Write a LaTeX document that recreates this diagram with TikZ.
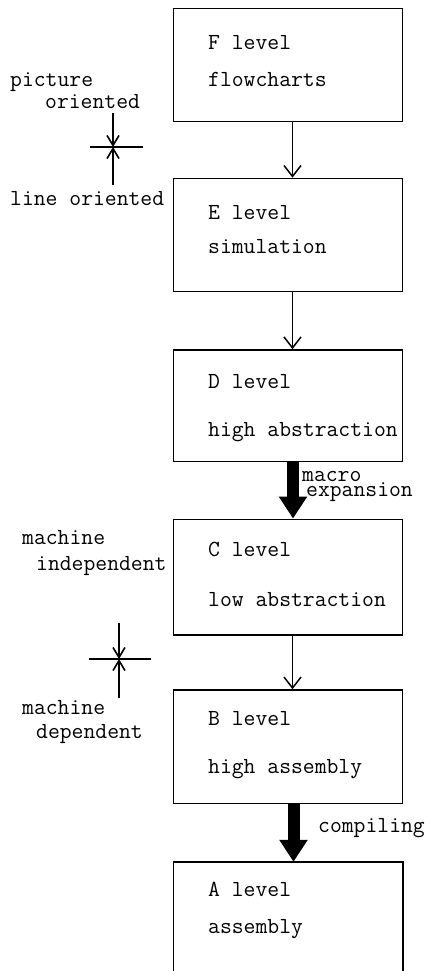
\documentclass[tikz,border=0pt]{standalone}
\usepackage{fontspec}
\usetikzlibrary{arrows.meta}
\begin{document}
\begin{tikzpicture}[x=1pt,y=-1pt,
  box/.style={draw, line width=1.6pt, minimum width=229pt, inner sep=0pt},
  openbox/.style={minimum width=229pt, inner sep=0pt},
  txt/.style={anchor=mid west, inner sep=0pt, font=\ttfamily\addfontfeatures{FakeBold=0.8}\fontsize{23}{23}\selectfont},
  thinarrow/.style={line width=1.5pt, -{Straight Barb[length=11pt,width=17pt]}},
  fatarrow/.style={line width=12pt, -{Triangle[length=22pt,width=27pt]}},
  xarrow/.style={line width=1.6pt, -{Straight Barb[length=10pt,width=12pt]}},
  xline/.style={line width=1.6pt},
  ]
\useasboundingbox (0,0) rectangle (430,971);
\fill[white] (0,0) rectangle (430,971);

% boxes
\node[box, minimum height=113pt] (F) at (288,65) {};
\node[box, minimum height=113pt] (E) at (288,235) {};
\node[box, minimum height=111.7pt] (D) at (288,405.8) {};
\node[box, minimum height=115.7pt] (C) at (288,577.2) {};
\node[box, minimum height=113.3pt] (B) at (288,746.7) {};
\node[openbox, minimum height=109pt] (A) at (288,916.5) {};
\draw[line width=1.6pt] (A.south west) |- (A.north east) -- (A.south east);

% box texts
\node[txt] (F1) at (208,47) {F level};
\node[txt] (F2) at (208,84) {flowcharts};
\node[txt] (E1) at (208,217) {E level};
\node[txt] (E2) at (208,251) {simulation};
\node[txt] (D1) at (208,386) {D level};
\node[txt] (D2) at (208,434) {high abstraction};
\node[txt] (C1) at (208,554) {C level};
\node[txt] (C2) at (208,604) {low abstraction};
\node[txt] (B1) at (208,723) {B level};
\node[txt] (B2) at (208,771) {high assembly};
\node[txt] (A1) at (208,894) {A level};
\node[txt] (A2) at (208,931) {assembly};

% connectors
\draw[thinarrow] ([xshift=4.5pt]F.south) -- ([xshift=4.5pt]E.north);
\draw[thinarrow] ([xshift=4.5pt]E.south) -- ([xshift=4.5pt]D.north);
\draw[fatarrow] ([xshift=5pt]D.south) -- ([xshift=5pt]C.north);
\draw[thinarrow] ([xshift=4.5pt]C.south) -- ([xshift=4.5pt]B.north);
\draw[fatarrow] ([xshift=5.5pt]B.south) -- ([xshift=5.5pt]A.north);

\node[txt] (M1) at (302,479) {macro};
\node[txt] (M2) at (306,494) {expansion};
\node[txt] (K) at (318,830) {compiling};

% left labels
\node[txt] (L1) at (10,84) {picture};
\node[txt] (L2) at (45,106) {oriented};
\node[txt] (L3) at (10,203) {line oriented};
\node[txt] (L4) at (22,542) {machine};
\node[txt] (L5) at (36,568) {independent};
\node[txt] (L6) at (22,712) {machine};
\node[txt] (L7) at (36,736) {dependent};

% crosses
\coordinate (x1t) at (113,113);
\coordinate (x1) at (113,147);
\coordinate (x1b) at (113,185);
\coordinate (x1l) at (90,147);
\coordinate (x1r) at (143,147);
\draw[xarrow] (x1t) -- (x1);
\draw[xarrow] (x1b) -- (x1);
\draw[xline] (x1l) -- (x1r);

\coordinate (x2t) at (119,623);
\coordinate (x2) at (119,659);
\coordinate (x2b) at (119,698);
\coordinate (x2l) at (89,659);
\coordinate (x2r) at (151,659);
\draw[xarrow] (x2t) -- (x2);
\draw[xarrow] (x2b) -- (x2);
\draw[xline] (x2l) -- (x2r);
\end{tikzpicture}
\end{document}
